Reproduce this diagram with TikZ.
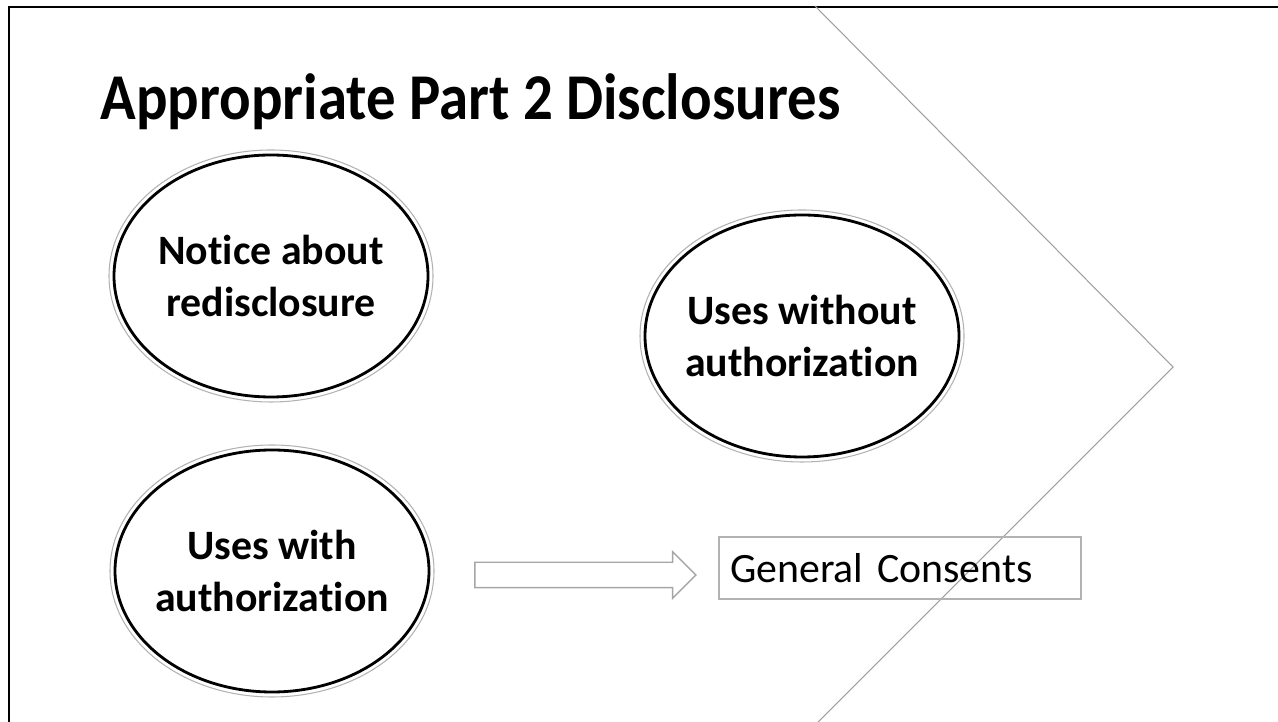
\documentclass[tikz,border=0pt]{standalone}
\usepackage{fontspec}
\setmainfont[Ligatures=NoCommon]{Carlito}
\usetikzlibrary{shapes.geometric,shapes.arrows}
\begin{document}
\begin{tikzpicture}[x=0.1mm, y=-0.1mm,
    bubble/.style={ellipse, draw=black, line width=0.8pt, minimum width=31.4mm,
        minimum height=24.2mm, inner xsep=-1.2mm, inner ysep=0pt, align=center,
        font=\fontsize{11.9}{14.8}\selectfont\bfseries},
    rim/.style={draw=gray!60, line width=0.3pt},
    thinline/.style={draw=gray!75, line width=0.3pt},
    flowarrow/.style={single arrow, draw=gray!70, line width=0.4pt, inner xsep=0pt,
        inner ysep=1.2mm, minimum height=22.1mm, single arrow head extend=1.05mm},
    textbox/.style={draw=gray!60, line width=0.4pt, minimum width=36.2mm,
        minimum height=6.2mm, inner xsep=1.1mm, text width=34mm, align=left,
        font=\fontsize{11.9}{13}\selectfont}]
    \useasboundingbox (0,0) rectangle (1278,722);
    % Slide frame (cropped at right and bottom)
    \draw[black, line width=0.6pt] (9,722) -- (9,7) -- (1278,7);
    % Chevron outline
    \draw[thinline] (815,6) -- (1173,367) -- (818,722);
    % Title
    \node[anchor=base west, inner sep=0pt, font=\fontsize{18.6}{22}\selectfont\bfseries]
        (title) at (100,120) {\scalebox{0.9}[1]{Appropriate Part 2 Disclosures}};
    % Bubbles
    \node[bubble] (notice) at (271,276) {Notice about\\redisclosure};
    \node[bubble] (without) at (802,336) {Uses without\\authorization};
    \node[bubble] (withauth) at (272,571) {Uses with\\authorization};
    \foreach \n in {notice, without, withauth} {
        \draw[rim] (\n.center) ellipse [x radius=162, y radius=126];
    }
    % Arrow to the consent box
    \node[flowarrow] (flow) at (579,575) {};
    \node[textbox] (consents) at (900,568) {General Consents};
\end{tikzpicture}
\end{document}
